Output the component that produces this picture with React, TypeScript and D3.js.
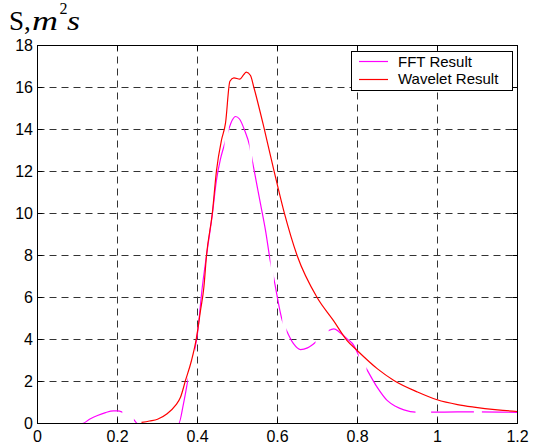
import React from "react";
import { scaleLinear, line, curveMonotoneX } from "d3";

// tick values and labels
const xTicks = [0, 0.2, 0.4, 0.6, 0.8, 1, 1.2];
const xTickLabels = ["0", "0.2", "0.4", "0.6", "0.8", "1", "1.2"];
const yTicks = [0, 2, 4, 6, 8, 10, 12, 14, 16, 18];
const yTickLabels = ["0", "2", "4", "6", "8", "10", "12", "14", "16", "18"];

// FFT result
const fftX = [
  0, 0.05, 0.1, 0.112, 0.13, 0.15, 0.17, 0.19, 0.2, 0.212, 0.225, 0.241, 0.25,
  0.28, 0.31, 0.34, 0.353, 0.365, 0.376, 0.39, 0.4, 0.412, 0.4225, 0.437,
  0.4475, 0.4575, 0.466, 0.478, 0.487, 0.495, 0.505, 0.518, 0.53, 0.537,
  0.5575, 0.57, 0.5825, 0.591, 0.612, 0.6225, 0.64, 0.6575, 0.675, 0.695,
  0.71, 0.728, 0.741, 0.755, 0.774, 0.791, 0.803, 0.8225, 0.849, 0.874, 0.895,
  0.916, 0.945, 0.984, 1.05, 1.1, 1.2,
];
const fftY = [
  0, 0, 0, 0, 0.2, 0.38, 0.52, 0.6, 0.6, 0.54, 0.4, 0.18, 0, 0, 0, 0, 0, 0.95,
  2.05, 3.2, 4.3, 6.5, 8.0, 9.95, 11.6, 12.6, 13.2, 14.0, 14.45, 14.62, 14.5,
  13.95, 13.24, 12.52, 10.46, 9.2, 7.68, 6.89, 4.9, 4.43, 3.8, 3.52, 3.6, 3.87,
  4.15, 4.43, 4.51, 4.35, 4.03, 3.71, 3.24, 2.6, 1.73, 1.1, 0.82, 0.65, 0.54,
  0.54, 0.55, 0.55, 0.53,
];
// where the dashed FFT line is broken (x ranges)
const fftGaps = [
  [0.212, 0.241], [0.376, 0.394], [0.4675, 0.478], [0.53, 0.537],
  [0.5825, 0.591], [0.612, 0.6225], [0.695, 0.728], [0.803, 0.8225],
  [0.945, 0.984], [1.091, 1.111],
];

// Wavelet result
const wavX = [
  0.26, 0.28, 0.3, 0.324, 0.345, 0.3575, 0.37, 0.385, 0.397, 0.4075, 0.416,
  0.4225, 0.437, 0.4475, 0.46, 0.47, 0.481, 0.491, 0.506, 0.515, 0.522,
  0.5325, 0.541, 0.566, 0.591, 0.616, 0.649, 0.699, 0.74, 0.774, 0.799, 0.85,
  0.891, 0.95, 0.999, 1.05, 1.091, 1.15, 1.2,
];
const wavY = [
  0.05, 0.12, 0.2, 0.46, 0.86, 1.25, 2.05, 3.0, 4.03, 5.38, 6.5, 8.0, 10.0,
  12.05, 13.5, 14.3, 16.3, 16.46, 16.4, 16.6, 16.73, 16.57, 16.0, 14.1, 12.05,
  10.1, 8.0, 6.0, 4.9, 3.95, 3.48, 2.6, 2.05, 1.5, 1.13, 0.9, 0.78, 0.65, 0.57,
];

const legendNames = ["FFT Result", "Wavelet Result"];
const FFT_COLOR = "#ff00ff";
const WAV_COLOR = "#ff0000";

const W = 544;
const H = 447;

export default function App() {
  const x = scaleLinear().domain([0, 1.2]).range([37.5, 517.5]);
  const y = scaleLinear().domain([0, 18]).range([423.5, 45.5]);
  const [x0, x1] = x.range();
  const [y0, y1] = y.range();

  const fftData = fftX.map((v, i) => [v, fftY[i]] as [number, number]);
  const wavData = wavX.map((v, i) => [v, wavY[i]] as [number, number]);

  const path = line<[number, number]>()
    .x((d) => x(d[0]))
    .y((d) => y(d[1]))
    .curve(curveMonotoneX);

  // visible intervals of the FFT line = complement of the gaps
  const visible: [number, number][] = [];
  let start = 0;
  fftGaps.forEach(([a, b]) => {
    visible.push([start, a]);
    start = b;
  });
  visible.push([start, 1.2]);

  const font = "'Liberation Sans', Arial, sans-serif";
  const serif = "'Liberation Serif', 'Times New Roman', serif";
  const tick = 5;

  return (
    <svg
      width={W}
      height={H}
      style={{ position: "absolute", left: 0, top: 0, background: "#fff" }}
    >
      <defs>
        <clipPath id="plotClip">
          <rect x={x0} y={y1} width={x1 - x0} height={y0 - y1} />
        </clipPath>
        <clipPath id="fftClip">
          {visible.map(([a, b], i) => (
            <rect key={i} x={x(a)} y={y1} width={x(b) - x(a)} height={y0 - y1 + 1} />
          ))}
        </clipPath>
      </defs>

      {/* grid */}
      <g stroke="#333" strokeWidth={1} strokeDasharray="7,5">
        {xTicks.slice(1, -1).map((t) => (
          <line key={`gx${t}`} x1={x(t)} x2={x(t)} y1={y0} y2={y1} />
        ))}
        {yTicks.slice(1, -1).map((t) => (
          <line key={`gy${t}`} x1={x0} x2={x1} y1={y(t)} y2={y(t)} />
        ))}
      </g>

      {/* curves */}
      <g clipPath="url(#plotClip)" fill="none">
        <g clipPath="url(#fftClip)">
          <path d={path(fftData) ?? ""} stroke={FFT_COLOR} strokeWidth={1.2} />
        </g>
        <path d={path(wavData) ?? ""} stroke={WAV_COLOR} strokeWidth={1.2} />
      </g>

      {/* axes box and ticks */}
      <rect x={x0} y={y1} width={x1 - x0} height={y0 - y1} fill="none" stroke="#000" strokeWidth={1} />
      <g stroke="#000" strokeWidth={1}>
        {xTicks.map((t) => (
          <g key={`tx${t}`}>
            <line x1={x(t)} x2={x(t)} y1={y0} y2={y0 - tick} />
            <line x1={x(t)} x2={x(t)} y1={y1} y2={y1 + tick} />
          </g>
        ))}
        {yTicks.map((t) => (
          <g key={`ty${t}`}>
            <line x1={x0} x2={x0 + tick} y1={y(t)} y2={y(t)} />
            <line x1={x1} x2={x1 - tick} y1={y(t)} y2={y(t)} />
          </g>
        ))}
      </g>

      {/* tick labels */}
      <g fontFamily={font} fontSize={16} fill="#000">
        {xTicks.map((t, i) => (
          <text key={`lx${t}`} x={x(t)} y={442} textAnchor="middle">
            {xTickLabels[i]}
          </text>
        ))}
        {yTicks.map((t, i) => (
          <text key={`ly${t}`} x={33} y={y(t) + 5.5} textAnchor="end">
            {yTickLabels[i]}
          </text>
        ))}
      </g>

      {/* y title: S, m^2 s */}
      <g fill="#000" fontFamily={serif}>
        <text x={9} y={30} fontSize={27}>S,</text>
        <text x={32} y={30} fontSize={28} fontStyle="italic" textLength={26} lengthAdjust="spacingAndGlyphs">m</text>
        <text x={59.5} y={14} fontSize={16}>2</text>
        <text x={67} y={30} fontSize={28} fontStyle="italic" textLength={13} lengthAdjust="spacingAndGlyphs">s</text>
      </g>

      {/* legend */}
      <g>
        <rect x={351.5} y={51.5} width={161} height={39} fill="#fff" stroke="#000" strokeWidth={1} />
        <line x1={359} x2={388} y1={61.5} y2={61.5} stroke={FFT_COLOR} strokeWidth={1.2} />
        <line x1={359} x2={388} y1={79.5} y2={79.5} stroke={WAV_COLOR} strokeWidth={1.2} />
        <g fontFamily={font} fontSize={15} fill="#000">
          <text x={398} y={66.5}>{legendNames[0]}</text>
          <text x={398} y={84}>{legendNames[1]}</text>
        </g>
      </g>
    </svg>
  );
}
